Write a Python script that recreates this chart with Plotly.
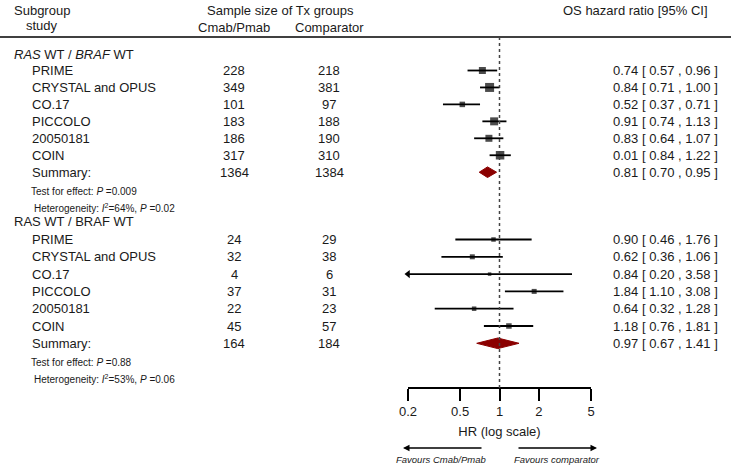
import math
import plotly.graph_objects as go

W, H = 731, 465

# ---------------- data ----------------
studies = ["PRIME", "CRYSTAL and OPUS", "CO.17", "PICCOLO", "20050181", "COIN"]

g1_title = "<i>RAS</i> WT / <i>BRAF</i> WT"
g1_n_cmab = [228, 349, 101, 183, 186, 317]
g1_n_comp = [218, 381, 97, 188, 190, 310]
g1_hr = [0.74, 0.84, 0.52, 0.91, 0.83, 1.01]
g1_hr_label = ["0.74", "0.84", "0.52", "0.91", "0.83", "0.01"]
g1_lo = [0.57, 0.71, 0.37, 0.74, 0.64, 0.84]
g1_hi = [0.96, 1.00, 0.71, 1.13, 1.07, 1.22]
g1_weight = [7.0, 9.0, 5.5, 8.0, 7.0, 8.5]
g1_sum_n = [1364, 1384]
g1_sum_hr = [0.81, 0.70, 0.95]
g1_test = "Test for effect: <i>P</i> =0.009"
g1_het = "Heterogeneity: <i>I</i><sup>2</sup>=64%, <i>P</i> =0.02"

g2_title = "RAS WT / BRAF WT"
g2_n_cmab = [24, 32, 4, 37, 22, 45]
g2_n_comp = [29, 38, 6, 31, 23, 57]
g2_hr = [0.90, 0.62, 0.84, 1.84, 0.64, 1.18]
g2_hr_label = ["0.90", "0.62", "0.84", "1.84", "0.64", "1.18"]
g2_lo = [0.46, 0.36, 0.20, 1.10, 0.32, 0.76]
g2_hi = [1.76, 1.06, 3.58, 3.08, 1.28, 1.81]
g2_weight = [4.5, 5.0, 3.5, 5.0, 4.5, 5.5]
g2_sum_n = [164, 184]
g2_sum_hr = [0.97, 0.67, 1.41]
g2_test = "Test for effect: <i>P</i> =0.88"
g2_het = "Heterogeneity: <i>I</i><sup>2</sup>=53%, <i>P</i> =0.06"

x_ticks = [0.2, 0.5, 1, 2, 5]
x_tick_labels = ["0.2", "0.5", "1", "2", "5"]

# ---------------- layout helpers (pixel positions) ----------------
FONT = "Liberation Sans, Arial, Helvetica, sans-serif"
TXT = "#1a1a1a"
X_MIN, X_MAX = 0.2, 5
AX_L, AX_R = 408, 591      # pixel extent of the HR axis
AX_Y = 388                  # pixel y of HR axis line
COL_NAME_G = 12
COL_NAME = 30
COL_N1 = 234
COL_N2 = 329
COL_HR = 611

groups = [
    dict(title=g1_title, n1=g1_n_cmab, n2=g1_n_comp, hr=g1_hr, lab=g1_hr_label,
         lo=g1_lo, hi=g1_hi, w=g1_weight, sn=g1_sum_n, shr=g1_sum_hr,
         test=g1_test, het=g1_het, y_title=54, y0=70.5, step=16.95),
    dict(title=g2_title, n1=g2_n_cmab, n2=g2_n_comp, hr=g2_hr, lab=g2_hr_label,
         lo=g2_lo, hi=g2_hi, w=g2_weight, sn=g2_sum_n, shr=g2_sum_hr,
         test=g2_test, het=g2_het, y_title=221, y0=239.5, step=17.3),
]

fig = go.Figure()
ann = []
shapes = []


def txt(x, y, s, size=13, anchor="left", italic=False):
    if italic:
        s = "<i>" + s + "</i>"
    ann.append(dict(x=x / W, y=y, xref="paper", yref="y", text=s, showarrow=False,
                    xanchor=anchor, yanchor="middle",
                    font=dict(family=FONT, size=size, color=TXT)))


# header
txt(42, 10, "Subgroup", anchor="center")
txt(42, 25, "study", anchor="center")
txt(280, 10, "Sample size of Tx groups", anchor="center")
txt(COL_N1, 27, "Cmab/Pmab", anchor="center")
txt(COL_N2, 27, "Comparator", anchor="center")
txt(710, 10, "OS hazard ratio [95% CI]", anchor="right")
shapes.append(dict(type="line", xref="paper", yref="y", x0=0, x1=1, y0=37, y1=37,
                   line=dict(color="black", width=1.5)))

for g in groups:
    txt(COL_NAME_G, g["y_title"], g["title"])
    ys = [g["y0"] + i * g["step"] for i in range(len(studies) + 1)]
    for i, s in enumerate(studies):
        y = ys[i]
        txt(COL_NAME, y, s)
        txt(COL_N1, y, str(g["n1"][i]), anchor="center")
        txt(COL_N2, y, str(g["n2"][i]), anchor="center")
        txt(COL_HR, y, f"{g['lab'][i]} [ {g['lo'][i]:.2f} , {g['hi'][i]:.2f} ]")
    ysum = ys[-1]
    txt(COL_NAME, ysum, "Summary:")
    txt(COL_N1, ysum, str(g["sn"][0]), anchor="center")
    txt(COL_N2, ysum, str(g["sn"][1]), anchor="center")
    shr = g["shr"]
    txt(COL_HR, ysum, f"{shr[0]:.2f} [ {shr[1]:.2f} , {shr[2]:.2f} ]")
    txt(29, ysum + 19, g["test"], size=10)
    txt(32, ysum + 35.5, g["het"], size=10)

    # CI lines
    lx, ly = [], []
    for i in range(len(studies)):
        lx += [max(g["lo"][i], X_MIN), min(g["hi"][i], X_MAX), None]
        ly += [ys[i], ys[i], None]
    fig.add_trace(go.Scatter(x=lx, y=ly, mode="lines", line=dict(color="black", width=1.8),
                             hoverinfo="skip", showlegend=False))
    # squares
    fig.add_trace(go.Scatter(x=g["hr"], y=ys[:-1], mode="markers",
                             marker=dict(symbol="square", size=g["w"], color="black",
                                         line=dict(width=0)),
                             showlegend=False))
    # arrows for CIs truncated at axis limit
    ax_, ay_ = [], []
    for i in range(len(studies)):
        if g["lo"][i] <= X_MIN:
            ax_.append(X_MIN)
            ay_.append(ys[i])
    if ax_:
        fig.add_trace(go.Scatter(x=ax_, y=ay_, mode="markers", cliponaxis=False,
                                 marker=dict(symbol="triangle-left", size=7, color="black"),
                                 showlegend=False))
    # summary diamond
    hh = 5.3
    fig.add_trace(go.Scatter(x=[shr[1], shr[0], shr[2], shr[0], shr[1]],
                             y=[ysum, ysum - hh, ysum, ysum + hh, ysum],
                             mode="lines", fill="toself", fillcolor="#8b0000",
                             line=dict(color="#8b0000", width=1), showlegend=False))

# null line
shapes.append(dict(type="line", xref="x", yref="y", x0=1, x1=1, y0=37, y1=AX_Y,
                   line=dict(color="#444", width=1.5, dash="dot")))

# favours arrows
ann.append(dict(x=403 / W, y=448, xref="paper", yref="y", ax=80, ay=0,
                axref="pixel", ayref="pixel", text="", showarrow=True,
                arrowhead=2, arrowsize=1, arrowwidth=1.3, arrowcolor="black"))
ann.append(dict(x=597 / W, y=448, xref="paper", yref="y", ax=-80, ay=0,
                axref="pixel", ayref="pixel", text="", showarrow=True,
                arrowhead=2, arrowsize=1, arrowwidth=1.3, arrowcolor="black"))
txt(441, 459, "Favours Cmab/Pmab", size=9.5, anchor="center", italic=True)
txt(557, 459, "Favours comparator", size=9.5, anchor="center", italic=True)

fig.update_layout(
    width=W, height=H,
    margin=dict(l=0, r=0, t=0, b=0, autoexpand=False),
    paper_bgcolor="white", plot_bgcolor="rgba(0,0,0,0)",
    showlegend=False,
    annotations=ann, shapes=shapes,
    xaxis=dict(type="log", range=[math.log10(X_MIN), math.log10(X_MAX)],
               domain=[AX_L / W, AX_R / W], anchor="free", position=1 - AX_Y / H,
               side="bottom", showline=True, linecolor="black", linewidth=1.5,
               ticks="outside", ticklen=12, tickwidth=1.5, tickcolor="black",
               tickvals=x_ticks, ticktext=x_tick_labels, showgrid=False, zeroline=False,
               tickfont=dict(family=FONT, size=13, color=TXT),
               title=dict(text="HR (log scale)", standoff=8,
                          font=dict(family=FONT, size=13, color=TXT))),
    yaxis=dict(range=[H, 0], domain=[0, 1], visible=False, fixedrange=True),
)

fig.write_html("out.html", config={"displayModeBar": False},
               post_script="document.body.style.margin='0';document.body.style.overflow='hidden';")
